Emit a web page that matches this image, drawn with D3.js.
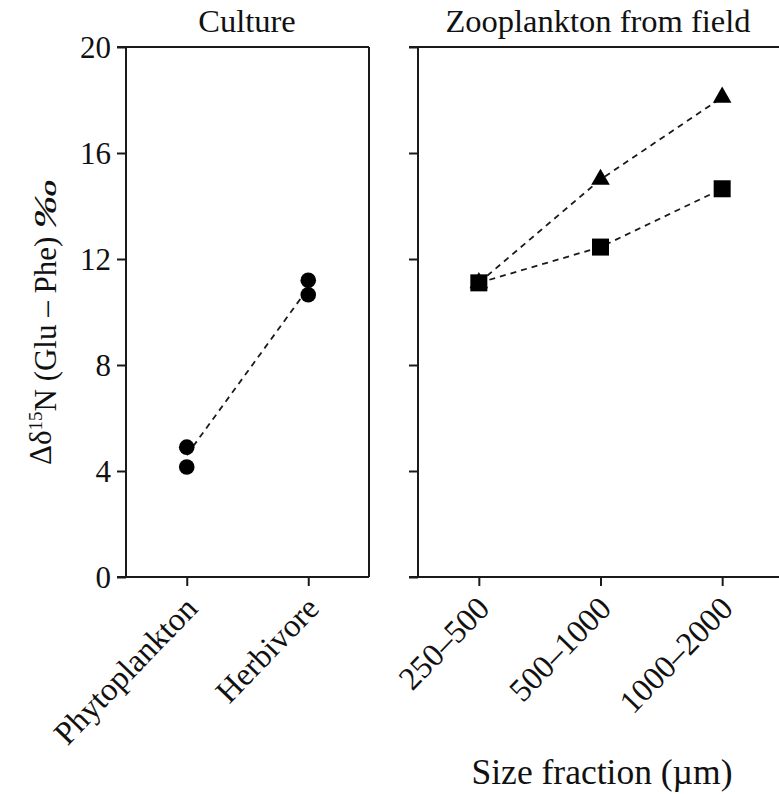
<!DOCTYPE html>
<html><head><meta charset="utf-8">
<script src="https://cdn.jsdelivr.net/npm/d3@7"></script>
<style>body{margin:0;background:#fff}svg{display:block}text{font-family:"Liberation Serif","Times New Roman",serif;fill:#111}</style>
</head><body><svg id="c" width="779" height="794"></svg>
<script>
// ---- data ----
const cultureCategories = ["Phytoplankton", "Herbivore"];
const culturePoints = [
  {cat: "Phytoplankton", v: 4.9}, {cat: "Phytoplankton", v: 4.15},
  {cat: "Herbivore", v: 11.2}, {cat: "Herbivore", v: 10.65}
];
const cultureMeans = [4.6, 10.9];
const sizeCategories = ["250\u2013500", "500\u20131000", "1000\u20132000"];
const triangleValues = [11.1, 15.0, 18.1];
const squareValues = [11.1, 12.45, 14.65];
const yTicks = [0, 4, 8, 12, 16, 20];
const panelTitles = ["Culture", "Zooplankton from field"];

const svg = d3.select("#c");
const y = d3.scaleLinear().domain([0, 20]).range([577, 47]);
const xL = d3.scalePoint().domain(cultureCategories).range([126, 369]).padding(0.5);
const xR = d3.scalePoint().domain(sizeCategories).range([418, 783]).padding(0.5);
const stroke = "#1a1a1a";

function frame(x0, x1, right) {
  const g = svg.append("g");
  g.append("line").attr("x1", x0).attr("x2", x0).attr("y1", y(20)).attr("y2", y(0)).attr("stroke", stroke).attr("stroke-width", 2);
  g.append("line").attr("x1", x0 - 9).attr("x2", x1).attr("y1", y(20)).attr("y2", y(20)).attr("stroke", stroke).attr("stroke-width", 2);
  g.append("line").attr("x1", x0 - 9).attr("x2", x1).attr("y1", y(0)).attr("y2", y(0)).attr("stroke", stroke).attr("stroke-width", 2);
  if (right) g.append("line").attr("x1", x1).attr("x2", x1).attr("y1", y(20)).attr("y2", y(0)).attr("stroke", stroke).attr("stroke-width", 2);
}
frame(126, 369, true);
frame(418, 800, false);

// y axes
const yAxisL = d3.axisLeft(y).tickValues(yTicks).tickSize(9).tickPadding(6).tickFormat(d3.format("d"));
const gyl = svg.append("g").attr("transform", "translate(126,0)").call(yAxisL);
gyl.select(".domain").remove();
gyl.selectAll("line").attr("stroke", stroke).attr("stroke-width", 2);
gyl.selectAll("text").style("font-size", "31px").attr("dy", "0.34em").attr("x", -15);

const yAxisR = d3.axisLeft(y).tickValues(yTicks).tickSize(9).tickFormat("");
const gyr = svg.append("g").attr("transform", "translate(418,0)").call(yAxisR);
gyr.select(".domain").remove();
gyr.selectAll("line").attr("stroke", stroke).attr("stroke-width", 2);

// x axes
function xAxis(scale) {
  const g = svg.append("g").attr("transform", "translate(0," + y(0) + ")").call(d3.axisBottom(scale).tickSize(9));
  g.select(".domain").remove();
  g.selectAll("line").attr("stroke", stroke).attr("stroke-width", 2);
  g.selectAll("text").style("font-size", "32.5px").attr("text-anchor", "end")
    .attr("y", 0).attr("dy", 0).attr("transform", "translate(12,33) rotate(-46)");
}
xAxis(xL);
xAxis(xR);

// titles
svg.append("text").attr("x", 247).attr("y", 32).attr("text-anchor", "middle").style("font-size", "32.5px").text(panelTitles[0]);
svg.append("text").attr("x", 598).attr("y", 32).attr("text-anchor", "middle").style("font-size", "32.5px").text(panelTitles[1]);

// axis labels
const yl = svg.append("text").attr("transform", "translate(51,322) rotate(-90)").attr("text-anchor", "middle").style("font-size", "31px");
yl.append("tspan").text("\u0394\u03b4");
yl.append("tspan").attr("dy", "-0.45em").style("font-size", "19px").text("15");
yl.append("tspan").attr("dy", "0.45em").text("N (Glu \u2013 Phe) ");
yl.append("tspan").style("font-style", "italic").style("font-weight", "300").style("font-size", "31px").attr("textLength", 50).attr("lengthAdjust", "spacingAndGlyphs").text("\u2030");

svg.append("text").attr("x", 602).attr("y", 784).attr("text-anchor", "middle").style("font-size", "35.5px").text("Size fraction (\u00b5m)");

// culture line + points
const line = d3.line().x(d => d[0]).y(d => d[1]);
svg.append("path").attr("d", line(cultureCategories.map((c, i) => [xL(c), y(cultureMeans[i])])))
  .attr("fill", "none").attr("stroke", stroke).attr("stroke-width", 1.8).attr("stroke-dasharray", "6,5");
svg.selectAll("circle.cp").data(culturePoints).join("circle").attr("class", "cp")
  .attr("cx", d => xL(d.cat)).attr("cy", d => y(d.v)).attr("r", 7.8).attr("fill", "#000");

// zooplankton lines
[triangleValues, squareValues].forEach(vals => {
  svg.append("path").attr("d", line(sizeCategories.map((c, i) => [xR(c), y(vals[i])])))
    .attr("fill", "none").attr("stroke", stroke).attr("stroke-width", 1.8).attr("stroke-dasharray", "6,5");
});
const tri = d3.symbol().type(d3.symbolTriangle).size(150);
svg.selectAll("path.tri").data(triangleValues).join("path").attr("class", "tri")
  .attr("d", tri).attr("transform", (d, i) => `translate(${xR(sizeCategories[i])},${y(d)})`).attr("fill", "#000");
svg.selectAll("rect.sq").data(squareValues).join("rect").attr("class", "sq")
  .attr("x", (d, i) => xR(sizeCategories[i]) - 8.5).attr("y", d => y(d) - 8.5)
  .attr("width", 17).attr("height", 17).attr("fill", "#000");
</script></body></html>
